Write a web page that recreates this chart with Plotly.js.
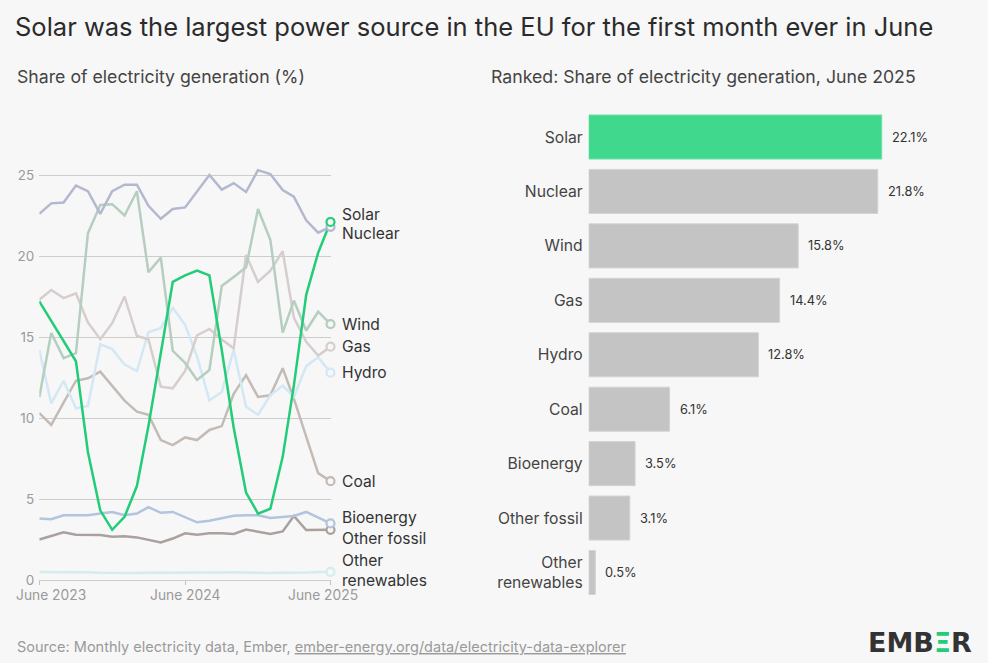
<!DOCTYPE html>
<html>
<head>
<meta charset="utf-8">
<script src="https://cdn.plot.ly/plotly-3.0.1.min.js"></script>
<style>
  html, body { margin: 0; padding: 0; background: #f7f7f7; }
  #chart { width: 988px; height: 663px; }
</style>
</head>
<body>
<div id="chart"></div>
<script>
// ---- Data ----
const months = ['2023-06','2023-07','2023-08','2023-09','2023-10','2023-11','2023-12',
  '2024-01','2024-02','2024-03','2024-04','2024-05','2024-06','2024-07','2024-08','2024-09',
  '2024-10','2024-11','2024-12','2025-01','2025-02','2025-03','2025-04','2025-05','2025-06'];

const solar       = [17.2, 16.0, 14.8, 13.5, 7.9, 4.3, 3.1, 3.9, 5.8, 9.5, 14.0, 18.4, 18.8, 19.1, 18.8, 14.2, 9.4, 5.4, 4.1, 4.4, 7.6, 12.0, 17.6, 20.2, 22.1];
const nuclear     = [22.6, 23.25, 23.3, 24.35, 24.0, 22.6, 24.0, 24.4, 24.4, 23.1, 22.3, 22.9, 23.0, 24.0, 25.0, 24.1, 24.5, 23.95, 25.3, 25.06, 24.07, 23.66, 22.2, 21.44, 21.8];
const wind        = [11.3, 15.25, 13.7, 14.0, 21.4, 23.15, 23.2, 22.5, 24.0, 19.0, 19.9, 14.15, 13.4, 12.35, 12.96, 18.15, 18.7, 19.3, 22.9, 21.0, 15.27, 17.25, 15.4, 16.56, 15.8];
const gas         = [17.3, 17.9, 17.4, 17.7, 15.9, 14.86, 15.85, 17.5, 15.06, 14.86, 11.93, 11.83, 12.9, 15.1, 15.5, 14.85, 14.3, 20.06, 18.4, 19.1, 20.3, 16.2, 14.7, 13.85, 14.4];
const hydro       = [14.2, 10.9, 12.3, 10.6, 10.75, 14.55, 14.25, 13.3, 12.9, 15.3, 15.55, 16.8, 15.75, 13.8, 11.1, 11.6, 14.2, 10.7, 10.2, 11.4, 12.0, 11.3, 13.2, 13.75, 12.8];
const coal        = [10.3, 9.57, 10.95, 12.3, 12.45, 12.86, 11.98, 11.07, 10.39, 10.2, 8.64, 8.33, 8.8, 8.64, 9.26, 9.5, 11.5, 12.65, 11.3, 11.4, 13.07, 11.2, 8.85, 6.6, 6.1];
const bioenergy   = [3.8, 3.75, 4.0, 4.0, 4.0, 4.1, 4.2, 4.0, 4.1, 4.5, 4.15, 4.2, 3.86, 3.56, 3.66, 3.8, 3.96, 4.0, 4.0, 3.83, 3.9, 3.95, 4.2, 3.86, 3.5];
const otherFossil = [2.5, 2.7, 2.94, 2.8, 2.78, 2.78, 2.67, 2.7, 2.63, 2.5, 2.32, 2.56, 2.88, 2.8, 2.88, 2.88, 2.84, 3.12, 3.0, 2.84, 3.0, 3.95, 3.08, 3.1, 3.1];
const otherRenew  = [0.5, 0.5, 0.5, 0.5, 0.48, 0.45, 0.43, 0.42, 0.43, 0.45, 0.45, 0.43, 0.47, 0.47, 0.47, 0.47, 0.48, 0.45, 0.43, 0.43, 0.45, 0.45, 0.47, 0.5, 0.5];

const xTickVals   = ['2023-06-01', '2024-06-01', '2025-06-01'];
const xTickLabels = ['June 2023', 'June 2024', 'June 2025'];
const yTickVals   = [0, 5, 10, 15, 20, 25];

const barCategories = ['Solar', 'Nuclear', 'Wind', 'Gas', 'Hydro', 'Coal', 'Bioenergy', 'Other fossil', 'Other renewables'];
const barLabels     = ['Solar', 'Nuclear', 'Wind', 'Gas', 'Hydro', 'Coal', 'Bioenergy', 'Other fossil', 'Other<br>renewables'];
const barValues     = [22.1, 21.8, 15.8, 14.4, 12.8, 6.1, 3.5, 3.1, 0.5];

// ---- Styles ----
const W = 988, H = 663;
const BG = '#f7f7f7';
const FONT = 'Inter, "Noto Sans", sans-serif';

// series drawn bottom to top; label text, colour, label vertical nudge (px, + = up)
const seriesDefs = [
  { label: 'Other<br>renewables', data: otherRenew,  color: '#d3ecec', nudge: 1 },
  { label: 'Other fossil',        data: otherFossil, color: '#aaa19e', nudge: -8.5 },
  { label: 'Bioenergy',           data: bioenergy,   color: '#b3c4de', nudge: 6 },
  { label: 'Coal',                data: coal,        color: '#c4bbb6', nudge: 0 },
  { label: 'Hydro',               data: hydro,       color: '#d2e8f4', nudge: 0 },
  { label: 'Gas',                 data: gas,         color: '#d6cecc', nudge: 0 },
  { label: 'Wind',                data: wind,        color: '#b5cebf', nudge: 0 },
  { label: 'Nuclear',             data: nuclear,     color: '#b3b8d0', nudge: -6.5 },
  { label: 'Solar',               data: solar,       color: '#22cc78', nudge: 7 }
];

const traces = [];
const annotations = [];
const last = months.length - 1;

seriesDefs.forEach(s => {
  traces.push({
    type: 'scatter', mode: 'lines', x: months, y: s.data,
    xaxis: 'x', yaxis: 'y', cliponaxis: false, hoverinfo: 'skip',
    line: { color: s.color, width: 2.5 }
  });
});
seriesDefs.forEach(s => {
  traces.push({
    type: 'scatter', mode: 'markers', x: [months[last]], y: [s.data[last]],
    xaxis: 'x', yaxis: 'y', cliponaxis: false, hoverinfo: 'skip',
    marker: { symbol: 'circle', size: 8, color: BG, line: { color: s.color, width: 2.2 } }
  });
  annotations.push({
    xref: 'x', yref: 'y', x: months[last], y: s.data[last],
    xanchor: 'left', yanchor: 'middle', xshift: 9, yshift: s.nudge,
    text: s.label, showarrow: false, align: 'left',
    font: { family: FONT, size: 15.6, color: '#333' }
  });
});

// x tick labels (kept inside the panel like the reference)
const tickShift = [12, 0, -8];
xTickVals.forEach((v, i) => {
  annotations.push({
    xref: 'x', yref: 'y', x: v, y: 0, xanchor: 'center', yanchor: 'top',
    xshift: tickShift[i], yshift: -5, text: xTickLabels[i], showarrow: false,
    font: { family: FONT, size: 13.8, color: '#9a9a9a' }
  });
});

// bar chart
traces.push({
  type: 'bar', orientation: 'h', x: barValues, y: barCategories,
  xaxis: 'x2', yaxis: 'y2', hoverinfo: 'skip',
  marker: {
    color: barCategories.map(c => c === 'Solar' ? '#40d88c' : '#c4c4c4'),
    line: { color: barCategories.map(c => c === 'Solar' ? '#6fe3aa' : '#d4d4d4'), width: 1 }
  }
});
barValues.forEach((v, i) => {
  annotations.push({
    xref: 'x2', yref: 'y2', x: v, y: barCategories[i], xanchor: 'left', yanchor: 'middle',
    xshift: 8, text: v.toFixed(1) + '%', showarrow: false,
    font: { family: FONT, size: 12.8, color: '#333' }
  });
});

// subtitles, source, logo
annotations.push({
  xref: 'paper', yref: 'paper', x: 15 / W, y: 1 - 76 / H, xanchor: 'left', yanchor: 'middle',
  text: 'Share of electricity generation (%)', showarrow: false,
  font: { family: FONT, size: 17.7, color: '#444' }
});
annotations.push({
  xref: 'paper', yref: 'paper', x: 489 / W, y: 1 - 76 / H, xanchor: 'left', yanchor: 'middle',
  text: 'Ranked: Share of electricity generation, June 2025', showarrow: false,
  font: { family: FONT, size: 17.7, color: '#444' }
});
annotations.push({
  xref: 'paper', yref: 'paper', x: 15 / W, y: 1 - 647 / H, xanchor: 'left', yanchor: 'middle',
  text: 'Source: Monthly electricity data, Ember, <span style="text-decoration:underline">ember-energy.org/data/electricity-data-explorer</span>',
  showarrow: false, font: { family: FONT, size: 14.5, color: '#9a9a9a' }
});
annotations.push({
  xref: 'paper', yref: 'paper', x: 974 / W, y: 1 - 642 / H, xanchor: 'right', yanchor: 'middle',
  text: '<b>EMB<span style="color:#22cc78">Ξ</span>R</b>', showarrow: false,
  font: { family: '"DejaVu Sans", sans-serif', size: 27, color: '#333' }
});

const yMaxLeft = 26;
const layout = {
  width: W, height: H,
  paper_bgcolor: BG, plot_bgcolor: BG,
  margin: { l: 0, r: 0, t: 0, b: 0 },
  showlegend: false,
  font: { family: FONT },
  title: {
    text: 'Solar was the largest power source in the EU for the first month ever in June',
    x: 15 / W, xanchor: 'left', xref: 'container',
    y: 1 - 27 / H, yanchor: 'middle', yref: 'container',
    font: { family: FONT, size: 25.5, color: '#2b2b2b' }
  },
  xaxis: {
    type: 'date', domain: [39.3 / W, 330.5 / W],
    range: ['2023-06-01', '2025-06-01'],
    tickvals: xTickVals, showticklabels: false,
    ticks: 'outside', ticklen: 4, tickcolor: '#c4c4c4', tickwidth: 1,
    showgrid: false, zeroline: false, showline: false, fixedrange: true
  },
  yaxis: {
    domain: [1 - 580 / H, 1 - (580 - yMaxLeft * 16.2) / H],
    range: [0, yMaxLeft], tickvals: yTickVals,
    showgrid: true, gridcolor: '#cccccc', gridwidth: 1,
    zeroline: true, zerolinecolor: '#cccccc', zerolinewidth: 1,
    ticks: '', ticklabelstandoff: 4,
    tickfont: { family: FONT, size: 13.5, color: '#9a9a9a' }, fixedrange: true
  },
  xaxis2: {
    anchor: 'y2', domain: [588.7 / W, (588.7 + 27.5 * 13.26) / W], range: [0, 27.5],
    showgrid: false, zeroline: false, showline: false, showticklabels: false, ticks: '', fixedrange: true
  },
  yaxis2: {
    anchor: 'x2', type: 'category', domain: [1 - 599.7 / H, 1 - 109.8 / H],
    autorange: 'reversed', tickvals: barCategories, ticktext: barLabels,
    ticks: '', showgrid: false, zeroline: false, showline: false, ticklabelstandoff: 5,
    tickfont: { family: FONT, size: 15.7, color: '#444' }, fixedrange: true
  },
  bargap: 0.19,
  annotations: annotations
};

Plotly.newPlot('chart', traces, layout, { displayModeBar: false, staticPlot: true });
</script>
</body>
</html>
